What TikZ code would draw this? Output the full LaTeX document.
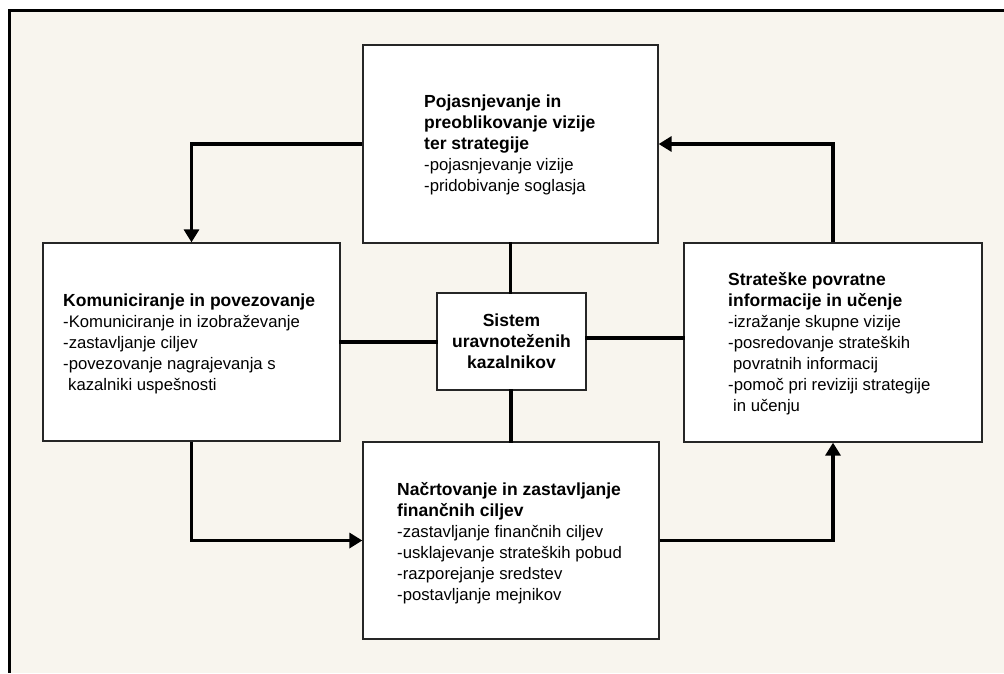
\documentclass[tikz,border=0pt]{standalone}
\usepackage{fontspec}
\setmainfont{Liberation Sans}
\usetikzlibrary{arrows.meta,shadows}
\definecolor{paper}{HTML}{F8F5EE}
\newcommand\regfont{\fontsize{16.7}{21}\selectfont}
\newcommand\hb[1]{{\fontsize{17.5}{21}\selectfont\bfseries #1}}
\newcommand\ind{\hspace*{5pt}}
\tikzset{
  panel/.style={draw=black!85, line width=1.3pt, fill=white, inner sep=0pt,
    general shadow={shadow xshift=1pt, shadow yshift=-1pt, fill=black!45}},
  bodytext/.style={anchor=north west, inner sep=0pt, align=left, font=\regfont},
  link/.style={line width=3.8pt, line join=miter, line cap=rect},
  flow/.style={line width=3.8pt, line join=miter,
    -{Triangle[length=13pt,width=15pt]}}
}
\begin{document}
\begin{tikzpicture}[x=1pt,y=-1pt]
  % page area and frame
  \useasboundingbox (0,0) rectangle (1004,673);
  \fill[white] (0,0) rectangle (1004,673);
  \fill[paper] (11,12) rectangle (1004,673);
  \fill[black] (8,9) rectangle (1004,12);
  \fill[black] (8,9) rectangle (11,673);

  % boxes
  \node[panel, minimum width=295pt, minimum height=198pt] (tbox) at (510.5,144) {};
  \node[panel, minimum width=297pt, minimum height=198pt] (lbox) at (191.5,342) {};
  \node[panel, minimum width=298pt, minimum height=199pt] (rbox) at (833,342.5) {};
  \node[panel, minimum width=296pt, minimum height=197pt] (bbox) at (511,540.5) {};
  \node[panel, minimum width=149pt, minimum height=97pt, align=center,
        font=\fontsize{17.5}{21}\selectfont\bfseries] (sys) at (511.5,341.5)
        {Sistem\\uravnoteženih\\kazalnikov};

  % box contents
  \node[bodytext] (ttext) at (424,95)
    {\hb{Pojasnjevanje in}\\\hb{preoblikovanje vizije}\\\hb{ter strategije}\\
     -pojasnjevanje vizije\\-pridobivanje soglasja};
  \node[bodytext] (ltext) at (63,294)
    {\hb{Komuniciranje in povezovanje}\\-Komuniciranje in izobraževanje\\
     -zastavljanje ciljev\\-povezovanje nagrajevanja s\\\ind kazalniki uspešnosti};
  \node[bodytext] (rtext) at (728,272)
    {\hb{Strateške povratne}\\\hb{informacije in učenje}\\-izražanje skupne vizije\\
     -posredovanje strateških\\\ind povratnih informacij\\
     -pomoč pri reviziji strategije\\\ind in učenju};
  \node[bodytext] (btext) at (397,482)
    {\hb{Načrtovanje in zastavljanje}\\\hb{finančnih ciljev}\\
     -zastavljanje finančnih ciljev\\-usklajevanje strateških pobud\\
     -razporejanje sredstev\\-postavljanje mejnikov};

  % links to the central system
  \draw[link] (tbox.south) -- (tbox.south |- sys.north);
  \draw[link] (bbox.north) -- (bbox.north |- sys.south);
  \draw[link] (lbox.east) -- (lbox.east -| sys.west);
  \path ([yshift=3.5pt]sys.east) coordinate (sr);
  \draw[link] (sr) -- (sr -| rbox.west);

  % cycle arrows
  \draw[flow] (tbox.west) -| (lbox.north);
  \draw[flow] (lbox.south) |- (bbox.west);
  \draw[flow] (bbox.east) -| (rbox.south);
  \draw[flow] (rbox.north) |- (tbox.east);
\end{tikzpicture}
\end{document}
